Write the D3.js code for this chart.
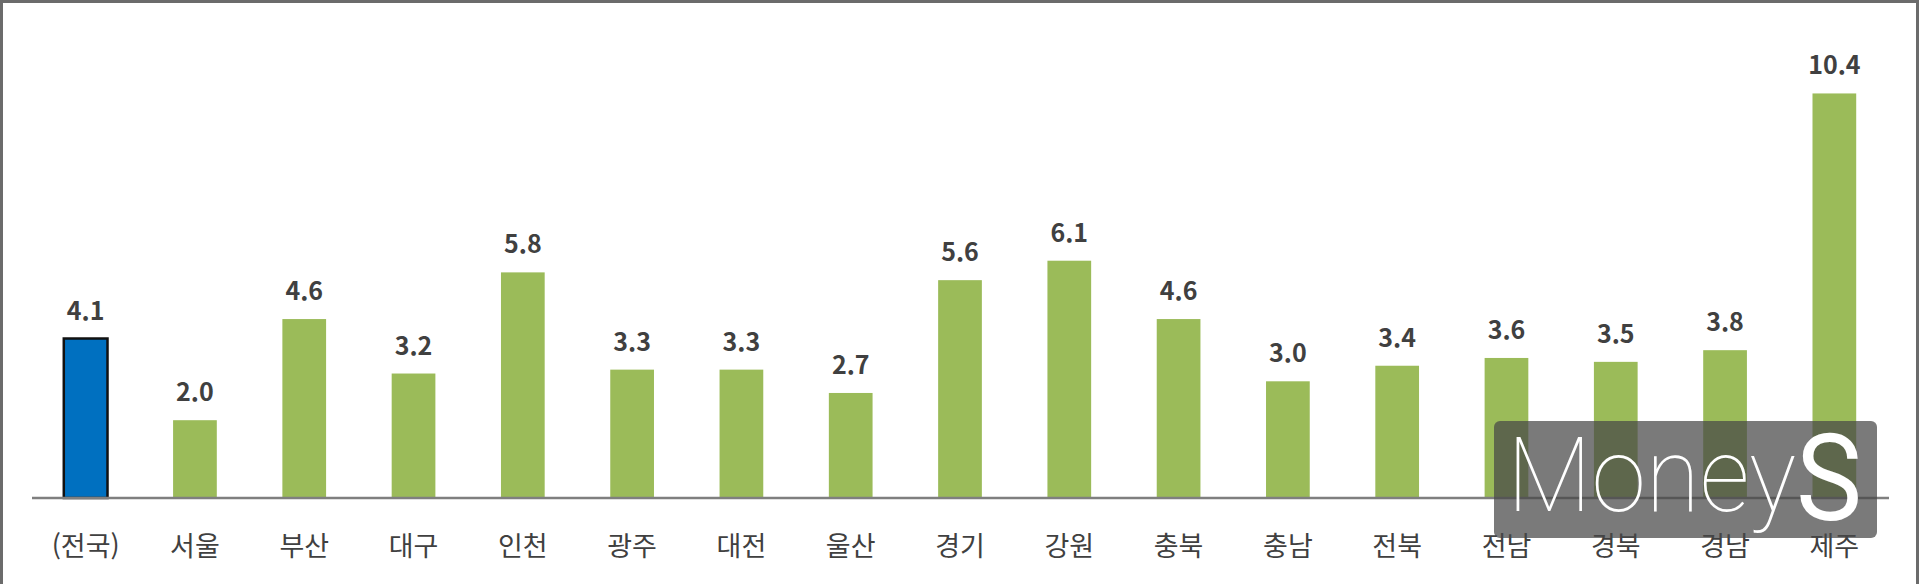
<!DOCTYPE html>
<html lang="ko">
<head>
<meta charset="utf-8">
<script src="https://cdn.jsdelivr.net/npm/d3@7"></script>
<style>
  html, body { margin: 0; padding: 0; background: #fff; }
  #chart { width: 1920px; height: 584px; }
  svg { display: block; }
</style>
</head>
<body>
<div id="chart"></div>
<script>
const regions = ["(전국)", "서울", "부산", "대구", "인천", "광주", "대전", "울산", "경기", "강원", "충북", "충남", "전북", "전남", "경북", "경남", "제주"];
const rates = [4.1, 2.0, 4.6, 3.2, 5.8, 3.3, 3.3, 2.7, 5.6, 6.1, 4.6, 3.0, 3.4, 3.6, 3.5, 3.8, 10.4];
const highlight = ["(전국)"];
const yDomain = [0, 11];

const width = 1920;
const height = 584;
const marginLeft = 31;
const marginRight = 31;
const baseline = 498;
const textColor = "#404040";

const x = d3.scaleBand()
  .domain(regions)
  .range([marginLeft, width - marginRight])
  .paddingInner(0.6)
  .paddingOuter(0.3);

const y = d3.scaleLinear()
  .domain(yDomain)
  .range([baseline, baseline - 11 * 38.9]);

const svg = d3.select("#chart").append("svg")
  .attr("width", width)
  .attr("height", height)
  .attr("viewBox", [0, 0, width, height]);

// frame around the picture
svg.append("path")
  .attr("d", `M1.5,${height} V1.5 H${width - 2.5} V${height}`)
  .attr("fill", "none")
  .attr("stroke", "#6b6b6b")
  .attr("stroke-width", 3);

const bars = svg.append("g");
bars.selectAll("rect")
  .data(regions)
  .join("rect")
  .attr("x", (d) => x(d))
  .attr("width", x.bandwidth())
  .attr("y", (d, i) => y(rates[i]))
  .attr("height", (d, i) => y(0) - y(rates[i]))
  .attr("fill", (d) => highlight.includes(d) ? "#0070C0" : "#9BBB59")
  .attr("stroke", (d) => highlight.includes(d) ? "#111" : "none")
  .attr("stroke-width", 2.5);

// category axis
const xAxisG = svg.append("g")
  .attr("transform", `translate(0,${baseline})`)
  .call(d3.axisBottom(x).tickSize(0).tickPadding(0));
xAxisG.select(".domain")
  .attr("d", `M${marginLeft + 1},0H${width - marginRight}`)
  .attr("stroke", "#7f7f7f")
  .attr("stroke-width", 2.5);
xAxisG.selectAll(".tick text")
  .attr("y", 58)
  .attr("dy", null)
  .attr("fill", textColor)
  .attr("font-family", "'Noto Sans CJK KR', sans-serif")
  .attr("font-size", 27);

// value labels
svg.append("g")
  .attr("text-anchor", "middle")
  .attr("font-family", "'Noto Sans CJK KR', 'Open Sans', sans-serif")
  .attr("font-weight", 600)
  .attr("font-size", 25)
  .attr("fill", textColor)
  .selectAll("text")
  .data(regions)
  .join("text")
  .attr("x", (d) => x(d) + x.bandwidth() / 2)
  .attr("y", (d, i) => y(rates[i]) - 19)
  .text((d, i) => d3.format(".1f")(rates[i]));

// watermark
const wm = svg.append("g").attr("transform", "translate(1494,421)");
wm.append("rect")
  .attr("width", 383)
  .attr("height", 117)
  .attr("rx", 6)
  .attr("fill", "rgba(70,70,70,0.72)");
wm.append("text")
  .attr("x", 13)
  .attr("y", 90)
  .attr("font-family", "Roboto, 'Open Sans', sans-serif")
  .attr("font-weight", 100)
  .attr("font-size", 103)
  .attr("fill", "#fff")
  .attr("textLength", 289)
  .attr("lengthAdjust", "spacingAndGlyphs")
  .text("Money");
wm.append("text")
  .attr("x", 302)
  .attr("y", 99)
  .attr("font-family", "Roboto, 'Open Sans', sans-serif")
  .attr("font-weight", 400)
  .attr("font-size", 120)
  .attr("fill", "#fff")
  .attr("textLength", 66)
  .attr("lengthAdjust", "spacingAndGlyphs")
  .text("S");
</script>
</body>
</html>
